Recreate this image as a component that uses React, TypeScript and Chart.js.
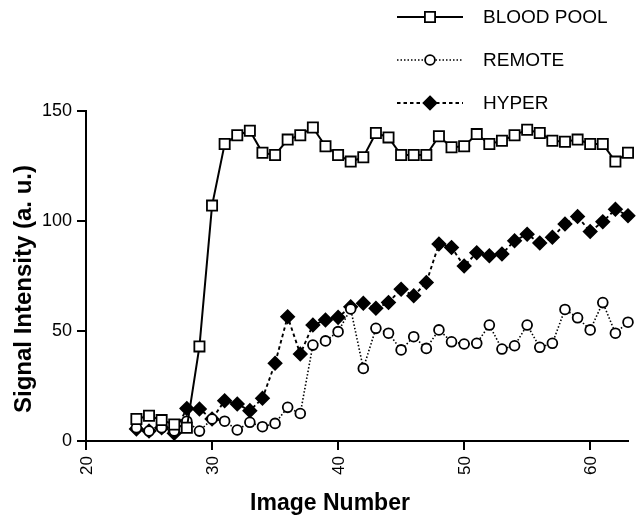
import React, { useEffect, useRef } from 'react';
import { Chart, registerables } from 'chart.js';

Chart.register(...registerables);

const imageNumbers = [
  24, 25, 26, 27, 28, 29, 30, 31, 32, 33,
  34, 35, 36, 37, 38, 39, 40, 41, 42, 43,
  44, 45, 46, 47, 48, 49, 50, 51, 52, 53,
  54, 55, 56, 57, 58, 59, 60, 61, 62, 63,
];
const bloodPool = [
  10, 11.5, 9.5, 7.5, 6, 43, 107, 135, 139, 141,
  131, 130, 137, 139, 142.5, 134, 130, 127, 129, 140,
  138, 130, 130, 130, 138.5, 133.5, 134, 139.5, 135, 136.5,
  139, 141.5, 140, 136.5, 136, 137, 135, 135, 127, 131,
];
const remote = [
  6, 4.5, 6, 4.5, 9, 4.5, 10, 9, 5, 8.5,
  6.5, 8, 15.3, 12.5, 43.6, 45.5, 49.7, 60, 33, 51.2,
  49, 41.4, 47.4, 42.1, 50.5, 45.1, 44.1, 44.4, 52.7, 41.8,
  43.3, 52.7, 42.6, 44.4, 59.8, 56, 50.5, 62.9, 49, 54,
];
const hyper = [
  5.5, 4.5, 6, 3.5, 14.8, 14.5, 10, 18.3, 16.8, 13.8,
  19.4, 35.3, 56.5, 39.5, 52.7, 55, 56.2, 61, 62.6, 60.3,
  63, 69, 66, 72, 89.5, 88, 79.5, 85.6, 84.2, 85,
  91, 94, 90, 92.6, 98.6, 102, 95.2, 99.7, 105.3, 102.4,
];
const seriesNames = ['BLOOD POOL', 'REMOTE', 'HYPER'];
const xTickValues = [20, 30, 40, 50, 60];
const xTitle = 'Image Number';
const yTitle = 'Signal Intensity (a. u.)';

const FONT = '"Liberation Sans", Arial, Helvetica, sans-serif';

type Style = {
  pointStyle: string;
  radius: number;
  fill: string;
  dash: number[];
  lineWidth: number;
};

const styles: Style[] = [
  { pointStyle: 'rect', radius: 7.2, fill: '#ffffff', dash: [], lineWidth: 2 },
  { pointStyle: 'circle', radius: 4.9, fill: '#ffffff', dash: [1.5, 2], lineWidth: 1.6 },
  { pointStyle: 'rectRot', radius: 6.5, fill: '#000000', dash: [3.5, 3], lineWidth: 1.9 },
];

function drawMarker(ctx: CanvasRenderingContext2D, s: Style, x: number, y: number) {
  ctx.save();
  ctx.setLineDash([]);
  ctx.lineWidth = 1.8;
  ctx.strokeStyle = '#000';
  ctx.fillStyle = s.fill;
  ctx.beginPath();
  if (s.pointStyle === 'rect') {
    const h = s.radius / Math.SQRT2;
    ctx.rect(x - h, y - h, 2 * h, 2 * h);
  } else if (s.pointStyle === 'circle') {
    ctx.arc(x, y, s.radius, 0, Math.PI * 2);
  } else {
    ctx.moveTo(x, y - s.radius);
    ctx.lineTo(x + s.radius, y);
    ctx.lineTo(x, y + s.radius);
    ctx.lineTo(x - s.radius, y);
    ctx.closePath();
  }
  ctx.fill();
  ctx.stroke();
  ctx.restore();
}

const decorPlugin = {
  id: 'decor',
  afterDraw(chart: any) {
    const ctx: CanvasRenderingContext2D = chart.ctx;
    const xs = chart.scales.x;
    const area = chart.chartArea;
    ctx.save();
    ctx.fillStyle = '#000';

    // rotated x tick labels (reading bottom to top)
    ctx.font = `17px ${FONT}`;
    ctx.textAlign = 'right';
    ctx.textBaseline = 'middle';
    xTickValues.forEach((v) => {
      const px = xs.getPixelForValue(v);
      ctx.save();
      ctx.translate(px + 1, area.bottom + 15);
      ctx.rotate(-Math.PI / 2);
      ctx.fillText(String(v), 0, 0);
      ctx.restore();
    });

    // axis titles
    ctx.font = `bold 23px ${FONT}`;
    ctx.textAlign = 'center';
    ctx.textBaseline = 'middle';
    ctx.fillText(xTitle, area.left + 244, area.bottom + 63);
    ctx.font = `bold 24px ${FONT}`;
    ctx.save();
    ctx.translate(24, (area.top + area.bottom) / 2 + 13);
    ctx.rotate(-Math.PI / 2);
    ctx.fillText(yTitle, 0, 0);
    ctx.restore();

    // legend
    const lx0 = 397;
    const lx1 = 463;
    const lxm = 430;
    const rows = [17, 60, 103];
    ctx.font = `19px ${FONT}`;
    ctx.textAlign = 'left';
    ctx.textBaseline = 'middle';
    seriesNames.forEach((name, i) => {
      const s = styles[i];
      const y = rows[i];
      ctx.save();
      ctx.strokeStyle = '#000';
      ctx.lineWidth = s.lineWidth;
      ctx.setLineDash(s.dash);
      ctx.beginPath();
      ctx.moveTo(lx0, y);
      ctx.lineTo(lx1, y);
      ctx.stroke();
      ctx.restore();
      drawMarker(ctx, s, lxm, y);
      ctx.fillStyle = '#000';
      ctx.fillText(name, 483, y + 1);
    });
    ctx.restore();
  },
};

export default function App() {
  const canvasRef = useRef<HTMLCanvasElement | null>(null);

  useEffect(() => {
    if (!canvasRef.current) return;
    const series = [bloodPool, remote, hyper];
    const datasets = series.map((vals, i) => {
      const s = styles[i];
      return {
        label: seriesNames[i],
        data: imageNumbers.map((x, j) => ({ x, y: vals[j] })),
        borderColor: '#000',
        borderWidth: s.lineWidth,
        borderDash: s.dash,
        backgroundColor: s.fill,
        pointStyle: s.pointStyle,
        pointRadius: s.radius,
        pointBorderWidth: 1.8,
        pointBorderColor: '#000',
        pointBackgroundColor: s.fill,
        tension: 0,
        fill: false,
        clip: false,
      };
    });

    const chart = new Chart(canvasRef.current, {
      type: 'line',
      data: { datasets: datasets as any },
      plugins: [decorPlugin as any],
      options: {
        responsive: false,
        animation: false,
        devicePixelRatio: 1,
        layout: { padding: { top: 111, right: 16, bottom: 0, left: 0 } },
        plugins: {
          legend: { display: false },
          tooltip: { enabled: false },
          title: { display: false },
        },
        scales: {
          x: {
            type: 'linear',
            min: 20,
            max: 63,
            afterFit: (scale: any) => {
              scale.height = 77;
            },
            ticks: { display: false, stepSize: 10, includeBounds: false },
            grid: {
              display: true,
              drawOnChartArea: false,
              drawTicks: true,
              tickLength: 9,
              color: '#000',
              lineWidth: 2,
            },
            border: { display: true, color: '#000', width: 2 },
          },
          y: {
            type: 'linear',
            min: 0,
            max: 150,
            afterFit: (scale: any) => {
              scale.width = 86;
            },
            ticks: {
              stepSize: 50,
              color: '#000',
              padding: 5,
              font: { family: FONT, size: 18 },
            },
            grid: {
              display: true,
              drawOnChartArea: false,
              drawTicks: true,
              tickLength: 9,
              color: '#000',
              lineWidth: 2,
            },
            border: { display: true, color: '#000', width: 2 },
          },
        },
      } as any,
    });
    return () => chart.destroy();
  }, []);

  return (
    <div style={{ position: 'absolute', left: 0, top: 0, width: 644, height: 518, background: '#fff' }}>
      <canvas ref={canvasRef} width={644} height={518} />
    </div>
  );
}
